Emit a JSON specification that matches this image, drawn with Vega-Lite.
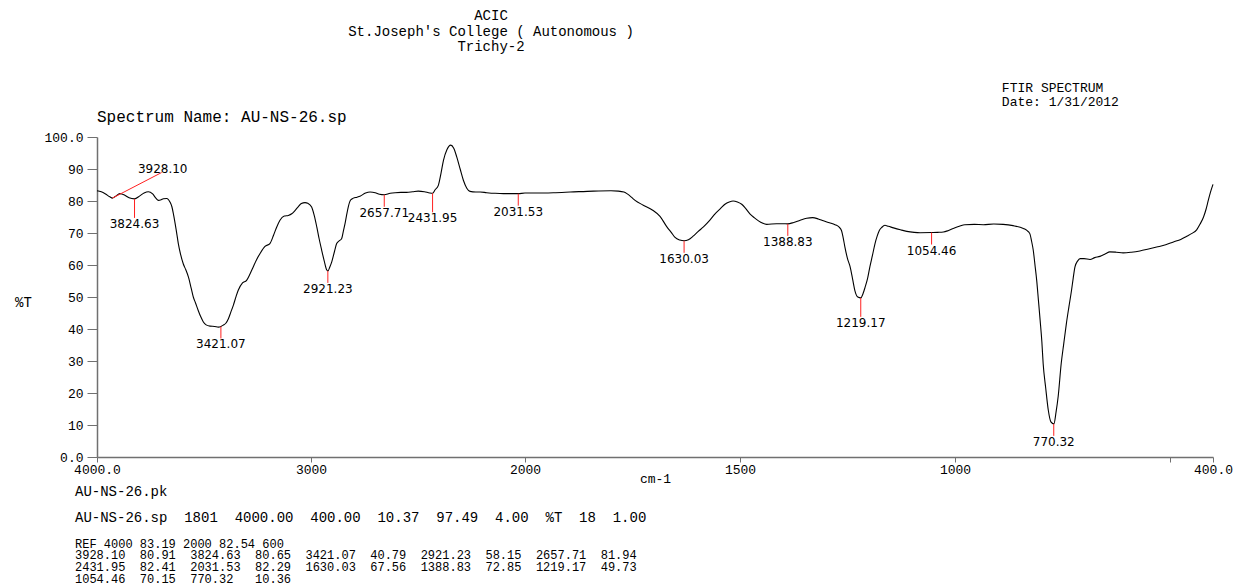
{
  "$schema": "https://vega.github.io/schema/vega-lite/v6.json",
  "width": 1116,
  "height": 320,
  "autosize": {"type": "none"},
  "padding": {"left": 97, "top": 137, "right": 30, "bottom": 129},
  "background": "white",
  "title": {
    "text": ["ACIC", "St.Joseph's College ( Autonomous )", "Trichy-2"],
    "anchor": "middle",
    "frame": "group",
    "dx": -164,
    "offset": 28,
    "font": "Liberation Mono",
    "fontSize": 14,
    "fontWeight": "normal",
    "color": "black",
    "lineHeight": 15.5
  },
  "config": {
    "view": {"stroke": null},
    "axis": {"grid": false}
  },
  "datasets": {
    "spectrum": [
      {"wn": 4000, "T": 83.2}, {"wn": 3980, "T": 82.9}, {"wn": 3960, "T": 82.2}, {"wn": 3940, "T": 81.3},
      {"wn": 3928, "T": 80.9}, {"wn": 3915, "T": 81.4}, {"wn": 3893, "T": 82.3}, {"wn": 3870, "T": 81.8},
      {"wn": 3850, "T": 81.0}, {"wn": 3825, "T": 80.65}, {"wn": 3800, "T": 81.6}, {"wn": 3780, "T": 82.5},
      {"wn": 3760, "T": 82.9}, {"wn": 3740, "T": 82.2}, {"wn": 3725, "T": 80.9}, {"wn": 3713, "T": 80.2},
      {"wn": 3700, "T": 80.4}, {"wn": 3690, "T": 80.7}, {"wn": 3674, "T": 80.8}, {"wn": 3659, "T": 79.7},
      {"wn": 3650, "T": 78.2}, {"wn": 3643, "T": 76}, {"wn": 3630, "T": 71}, {"wn": 3620, "T": 66.7},
      {"wn": 3610, "T": 63.5}, {"wn": 3597, "T": 60.4}, {"wn": 3585, "T": 58.5}, {"wn": 3573, "T": 56.3},
      {"wn": 3560, "T": 52.8}, {"wn": 3550, "T": 50}, {"wn": 3540, "T": 48.2}, {"wn": 3527, "T": 45.8},
      {"wn": 3515, "T": 43.8}, {"wn": 3503, "T": 42.2}, {"wn": 3490, "T": 41.3}, {"wn": 3472, "T": 40.9},
      {"wn": 3450, "T": 40.8}, {"wn": 3433, "T": 40.6}, {"wn": 3421, "T": 40.79}, {"wn": 3410, "T": 41.2},
      {"wn": 3398, "T": 41.8}, {"wn": 3386, "T": 43.2}, {"wn": 3375, "T": 45.2}, {"wn": 3363, "T": 47.4},
      {"wn": 3350, "T": 50.2}, {"wn": 3340, "T": 52.1}, {"wn": 3320, "T": 54.4}, {"wn": 3301, "T": 55.2},
      {"wn": 3285, "T": 57.2}, {"wn": 3270, "T": 59.4}, {"wn": 3255, "T": 61.6}, {"wn": 3238, "T": 63.6},
      {"wn": 3215, "T": 65.8}, {"wn": 3192, "T": 66.7}, {"wn": 3175, "T": 69.3}, {"wn": 3160, "T": 71.9},
      {"wn": 3145, "T": 74}, {"wn": 3125, "T": 75.3}, {"wn": 3106, "T": 75.5}, {"wn": 3090, "T": 76},
      {"wn": 3075, "T": 77}, {"wn": 3060, "T": 78.2}, {"wn": 3045, "T": 79.2}, {"wn": 3028, "T": 79.5},
      {"wn": 3015, "T": 79.3}, {"wn": 2997, "T": 78.1}, {"wn": 2985, "T": 75.5}, {"wn": 2973, "T": 71.9},
      {"wn": 2962, "T": 68.2}, {"wn": 2950, "T": 64.6}, {"wn": 2938, "T": 61.2}, {"wn": 2927, "T": 58.5},
      {"wn": 2921, "T": 58.15}, {"wn": 2912, "T": 59.4}, {"wn": 2903, "T": 61}, {"wn": 2890, "T": 64.3},
      {"wn": 2880, "T": 66.7}, {"wn": 2867, "T": 67.6}, {"wn": 2857, "T": 68.2}, {"wn": 2848, "T": 70.8},
      {"wn": 2841, "T": 72.9}, {"wn": 2833, "T": 75.8}, {"wn": 2826, "T": 78.1}, {"wn": 2815, "T": 80.3},
      {"wn": 2802, "T": 80.9}, {"wn": 2785, "T": 81.2}, {"wn": 2771, "T": 81.5}, {"wn": 2745, "T": 82.5},
      {"wn": 2724, "T": 82.8}, {"wn": 2700, "T": 82.6}, {"wn": 2680, "T": 82.1}, {"wn": 2658, "T": 81.94},
      {"wn": 2630, "T": 82.4}, {"wn": 2607, "T": 82.6}, {"wn": 2580, "T": 82.7}, {"wn": 2553, "T": 82.7},
      {"wn": 2525, "T": 82.9}, {"wn": 2499, "T": 83.1}, {"wn": 2470, "T": 82.9}, {"wn": 2445, "T": 82.5},
      {"wn": 2432, "T": 82.41}, {"wn": 2420, "T": 83.5}, {"wn": 2405, "T": 84.9}, {"wn": 2393, "T": 88.5},
      {"wn": 2381, "T": 92.7}, {"wn": 2365, "T": 96}, {"wn": 2347, "T": 97.45}, {"wn": 2333, "T": 96.5},
      {"wn": 2319, "T": 93.8}, {"wn": 2303, "T": 90}, {"wn": 2288, "T": 86.5}, {"wn": 2272, "T": 84},
      {"wn": 2257, "T": 83}, {"wn": 2230, "T": 82.8}, {"wn": 2210, "T": 82.8}, {"wn": 2179, "T": 82.6},
      {"wn": 2140, "T": 82.4}, {"wn": 2101, "T": 82.3}, {"wn": 2060, "T": 82.3}, {"wn": 2031.5, "T": 82.29},
      {"wn": 2000, "T": 82.5}, {"wn": 1973, "T": 82.5}, {"wn": 1934, "T": 82.6}, {"wn": 1895, "T": 82.8},
      {"wn": 1841, "T": 83.1}, {"wn": 1800, "T": 83.2}, {"wn": 1783, "T": 83.1}, {"wn": 1770, "T": 82.8},
      {"wn": 1763, "T": 82.3}, {"wn": 1750, "T": 80.9}, {"wn": 1744, "T": 80.2}, {"wn": 1725, "T": 78.7},
      {"wn": 1703, "T": 77.1}, {"wn": 1686, "T": 75.2}, {"wn": 1670, "T": 71.9}, {"wn": 1660, "T": 70.2},
      {"wn": 1651, "T": 68.6}, {"wn": 1640, "T": 67.8}, {"wn": 1630, "T": 67.56}, {"wn": 1620, "T": 67.9},
      {"wn": 1609, "T": 69}, {"wn": 1597, "T": 70.5}, {"wn": 1585, "T": 71.9}, {"wn": 1570, "T": 74},
      {"wn": 1558, "T": 76}, {"wn": 1545, "T": 77.7}, {"wn": 1535, "T": 79}, {"wn": 1525, "T": 79.7},
      {"wn": 1516, "T": 80}, {"wn": 1506, "T": 79.7}, {"wn": 1496, "T": 79}, {"wn": 1487, "T": 77.7},
      {"wn": 1477, "T": 76}, {"wn": 1467, "T": 74.8}, {"wn": 1457, "T": 73.8}, {"wn": 1448, "T": 73.1},
      {"wn": 1438, "T": 72.7}, {"wn": 1415, "T": 72.9}, {"wn": 1400, "T": 72.9}, {"wn": 1389, "T": 72.85},
      {"wn": 1375, "T": 73.3}, {"wn": 1360, "T": 74}, {"wn": 1345, "T": 74.6}, {"wn": 1331, "T": 74.8},
      {"wn": 1318, "T": 74.4}, {"wn": 1306, "T": 73.8}, {"wn": 1292, "T": 73.2}, {"wn": 1279, "T": 72.6},
      {"wn": 1270, "T": 71.9}, {"wn": 1264, "T": 70.8}, {"wn": 1260, "T": 68.5}, {"wn": 1256, "T": 65.6},
      {"wn": 1250, "T": 62}, {"wn": 1244, "T": 59.5}, {"wn": 1238, "T": 55.5}, {"wn": 1233, "T": 52.1},
      {"wn": 1226, "T": 50}, {"wn": 1219, "T": 49.73}, {"wn": 1214, "T": 51}, {"wn": 1209, "T": 53.1},
      {"wn": 1203, "T": 56}, {"wn": 1198, "T": 59.4}, {"wn": 1192, "T": 63}, {"wn": 1186, "T": 66.7},
      {"wn": 1181, "T": 69}, {"wn": 1176, "T": 70.8}, {"wn": 1170, "T": 71.8}, {"wn": 1163, "T": 72.4},
      {"wn": 1155, "T": 72.1}, {"wn": 1143, "T": 71.6}, {"wn": 1127, "T": 71}, {"wn": 1112, "T": 70.5},
      {"wn": 1095, "T": 70.2}, {"wn": 1081, "T": 70.1}, {"wn": 1054, "T": 70.15}, {"wn": 1040, "T": 70.2},
      {"wn": 1027, "T": 70.3}, {"wn": 1015, "T": 70.8}, {"wn": 1004, "T": 71.4}, {"wn": 990, "T": 72.1},
      {"wn": 977, "T": 72.6}, {"wn": 955, "T": 72.7}, {"wn": 934, "T": 72.6}, {"wn": 910, "T": 72.8},
      {"wn": 888, "T": 72.7}, {"wn": 865, "T": 72.3}, {"wn": 841, "T": 71.4}, {"wn": 833, "T": 70.8},
      {"wn": 826, "T": 69.8}, {"wn": 822, "T": 67.5}, {"wn": 818, "T": 64.6}, {"wn": 814, "T": 60},
      {"wn": 810, "T": 55.2}, {"wn": 806, "T": 49}, {"wn": 802, "T": 42.7}, {"wn": 798, "T": 36},
      {"wn": 795, "T": 29.2}, {"wn": 789, "T": 21.5}, {"wn": 783, "T": 14.6}, {"wn": 777, "T": 11},
      {"wn": 770, "T": 10.36}, {"wn": 765, "T": 14}, {"wn": 760, "T": 19}, {"wn": 753, "T": 29.2},
      {"wn": 747, "T": 35.5}, {"wn": 741, "T": 41.7}, {"wn": 735, "T": 47}, {"wn": 729, "T": 52.1},
      {"wn": 725, "T": 56}, {"wn": 721, "T": 59.4}, {"wn": 715, "T": 61.2}, {"wn": 709, "T": 62},
      {"wn": 700, "T": 62}, {"wn": 686, "T": 61.7}, {"wn": 675, "T": 62.3}, {"wn": 663, "T": 62.7},
      {"wn": 650, "T": 63.5}, {"wn": 640, "T": 64.1}, {"wn": 625, "T": 64}, {"wn": 609, "T": 63.8},
      {"wn": 590, "T": 64}, {"wn": 570, "T": 64.4}, {"wn": 550, "T": 65}, {"wn": 531, "T": 65.6},
      {"wn": 510, "T": 66.3}, {"wn": 492, "T": 67.2}, {"wn": 475, "T": 68}, {"wn": 461, "T": 69},
      {"wn": 450, "T": 69.8}, {"wn": 438, "T": 71}, {"wn": 430, "T": 72.8}, {"wn": 422, "T": 75},
      {"wn": 416, "T": 77.5}, {"wn": 411, "T": 80.2}, {"wn": 406, "T": 82.7}, {"wn": 400, "T": 85.2}
    ],
    "peaks": [
      {"wn": 3928.10, "T": 80.91}, {"wn": 3824.63, "T": 80.65}, {"wn": 3421.07, "T": 40.79},
      {"wn": 2921.23, "T": 58.15}, {"wn": 2657.71, "T": 81.94}, {"wn": 2431.95, "T": 82.41},
      {"wn": 2031.53, "T": 82.29}, {"wn": 1630.03, "T": 67.56}, {"wn": 1388.83, "T": 72.85},
      {"wn": 1219.17, "T": 49.73}, {"wn": 1054.46, "T": 70.15}, {"wn": 770.32, "T": 10.36}
    ]
  },
  "layer": [
    {
      "data": {"name": "spectrum"},
      "mark": {"type": "line", "color": "black", "strokeWidth": 1.1, "interpolate": "monotone"},
      "encoding": {
        "x": {
          "field": "wn", "type": "quantitative",
          "scale": {"domain": [4000, 2000, 400], "range": [0, 428, 1116], "nice": false, "zero": false},
          "axis": {
            "title": "cm-1",
            "values": [4000, 3000, 2000, 1500, 1000, 500, 400],
            "format": "d",
            "labelExpr": "datum.value == 4000 ? '4000.0' : datum.value == 400 ? '400.0' : datum.value == 500 ? '' : datum.label",
            "labelFlush": false, "labelOverlap": false,
            "tickSize": 5, "labelPadding": 1,
            "labelFont": "Liberation Mono", "labelFontSize": 13, "labelColor": "black",
            "domainColor": "#707070", "domainWidth": 1.5, "tickColor": "#707070",
            "titleFont": "Liberation Mono", "titleFontSize": 13, "titleFontWeight": "normal", "titleColor": "black",
            "titleY": 21, "titleBaseline": "middle"
          }
        },
        "y": {
          "field": "T", "type": "quantitative",
          "scale": {"domain": [0, 100], "nice": false, "zero": false},
          "axis": {
            "title": "%T",
            "values": [0, 10, 20, 30, 40, 50, 60, 70, 80, 90, 100],
            "tickCount": 11,
            "format": "d",
            "labelExpr": "datum.value == 0 || datum.value == 100 ? format(datum.value, '.1f') : datum.label",
            "labelOverlap": false,
            "tickSize": 10, "labelPadding": 4,
            "labelFont": "Liberation Mono", "labelFontSize": 13, "labelColor": "black",
            "domainColor": "#707070", "domainWidth": 1.5, "tickColor": "#707070",
            "titleFont": "Liberation Mono", "titleFontSize": 14, "titleFontWeight": "normal", "titleColor": "black",
            "titleAngle": 0, "titleX": -74, "titleY": 165, "titleAlign": "center", "titleBaseline": "middle"
          }
        }
      }
    },
    {
      "data": {"name": "peaks"},
      "transform": [{"filter": {"not": {"field": "wn", "oneOf": [3928.1, 3824.63, 2431.95, 1219.17]}}}],
      "mark": {"type": "rule", "color": "#ff2020", "strokeWidth": 1, "y2Offset": 12},
      "encoding": {
        "x": {"field": "wn", "type": "quantitative"},
        "y": {"field": "T", "type": "quantitative"},
        "y2": {"field": "T"}
      }
    },
    {
      "data": {"name": "peaks"},
      "transform": [{"filter": {"not": {"field": "wn", "oneOf": [3928.1, 3824.63, 2431.95, 1219.17]}}}],
      "mark": {"type": "text", "font": "DejaVu Sans", "fontSize": 12, "color": "black", "baseline": "top", "align": "center", "dy": 13},
      "encoding": {
        "x": {"field": "wn", "type": "quantitative"},
        "y": {"field": "T", "type": "quantitative"},
        "text": {"field": "wn", "type": "quantitative", "format": ".2f"}
      }
    },
    {
      "data": {"name": "peaks"},
      "transform": [{"filter": {"field": "wn", "oneOf": [3824.63, 2431.95, 1219.17]}}],
      "mark": {"type": "rule", "color": "#ff2020", "strokeWidth": 1, "y2Offset": 19},
      "encoding": {
        "x": {"field": "wn", "type": "quantitative"},
        "y": {"field": "T", "type": "quantitative"},
        "y2": {"field": "T"}
      }
    },
    {
      "data": {"name": "peaks"},
      "transform": [{"filter": {"field": "wn", "oneOf": [3824.63, 2431.95, 1219.17]}}],
      "mark": {"type": "text", "font": "DejaVu Sans", "fontSize": 12, "color": "black", "baseline": "top", "align": "center", "dy": 20},
      "encoding": {
        "x": {"field": "wn", "type": "quantitative"},
        "y": {"field": "T", "type": "quantitative"},
        "text": {"field": "wn", "type": "quantitative", "format": ".2f"}
      }
    },
    {
      "data": {"name": "peaks"},
      "transform": [{"filter": {"field": "wn", "equal": 3928.1}}],
      "mark": {"type": "rule", "color": "#ff2020", "strokeWidth": 1},
      "encoding": {
        "x": {"field": "wn", "type": "quantitative"},
        "y": {"field": "T", "type": "quantitative"},
        "x2": {"datum": 3698},
        "y2": {"datum": 88.9}
      }
    },
    {
      "data": {"name": "peaks"},
      "transform": [{"filter": {"field": "wn", "equal": 3928.1}}],
      "mark": {"type": "text", "font": "DejaVu Sans", "fontSize": 12, "color": "black", "baseline": "alphabetic", "align": "center", "dy": 0},
      "encoding": {
        "x": {"datum": 3693, "type": "quantitative"},
        "y": {"datum": 88.9, "type": "quantitative"},
        "text": {"field": "wn", "type": "quantitative", "format": ".2f"}
      }
    },
    {
      "data": {"values": [{"note": "FTIR SPECTRUM\nDate: 1/31/2012"}]},
      "mark": {"type": "text", "font": "Liberation Mono", "fontSize": 13, "color": "black", "align": "left", "baseline": "middle", "lineBreak": "\n", "lineHeight": 14},
      "encoding": {
        "x": {"datum": 891, "type": "quantitative"},
        "y": {"datum": 115.3, "type": "quantitative"},
        "text": {"field": "note"}
      }
    },
    {
      "data": {"values": [{"note": "Spectrum Name: AU-NS-26.sp"}]},
      "mark": {"type": "text", "font": "Liberation Mono", "fontSize": 16, "color": "black", "align": "left", "baseline": "middle"},
      "encoding": {
        "x": {"datum": 4000, "type": "quantitative"},
        "y": {"datum": 106.25, "type": "quantitative"},
        "text": {"field": "note"}
      }
    },
    {
      "data": {"values": [{"note": "AU-NS-26.pk"}]},
      "mark": {"type": "text", "font": "Liberation Mono", "fontSize": 14, "color": "black", "align": "left", "baseline": "middle"},
      "encoding": {
        "x": {"datum": 4102.8, "type": "quantitative"},
        "y": {"datum": -10.9, "type": "quantitative"},
        "text": {"field": "note"}
      }
    },
    {
      "data": {"values": [{"note": "AU-NS-26.sp \u00a01801 \u00a04000.00 \u00a0400.00 \u00a010.37 \u00a097.49 \u00a04.00 \u00a0%T \u00a018 \u00a01.00"}]},
      "mark": {"type": "text", "font": "Liberation Mono", "fontSize": 14, "color": "black", "align": "left", "baseline": "middle"},
      "encoding": {
        "x": {"datum": 4102.8, "type": "quantitative"},
        "y": {"datum": -19.1, "type": "quantitative"},
        "text": {"field": "note"}
      }
    },
    {
      "data": {"values": [{"note": "REF 4000 83.19 2000 82.54 600\n3928.10 \u00a080.91 \u00a03824.63 \u00a080.65 \u00a03421.07 \u00a040.79 \u00a02921.23 \u00a058.15 \u00a02657.71 \u00a081.94\n2431.95 \u00a082.41 \u00a02031.53 \u00a082.29 \u00a01630.03 \u00a067.56 \u00a01388.83 \u00a072.85 \u00a01219.17 \u00a049.73\n1054.46 \u00a070.15 \u00a0770.32 \u00a0\u00a010.36"}]},
      "mark": {"type": "text", "font": "Liberation Mono", "fontSize": 12, "color": "black", "align": "left", "baseline": "middle", "lineBreak": "\n", "lineHeight": 11.7},
      "encoding": {
        "x": {"datum": 4102.8, "type": "quantitative"},
        "y": {"datum": -27.1, "type": "quantitative"},
        "text": {"field": "note"}
      }
    }
  ]
}
